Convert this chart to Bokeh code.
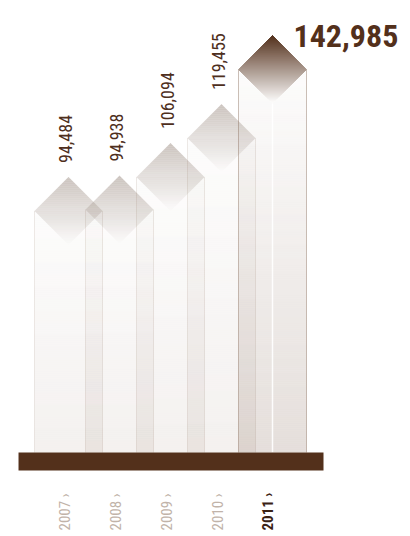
import math
from bokeh.plotting import figure
from bokeh.models import Range1d
from bokeh.core.properties import value
from bokeh.embed import file_html
from bokeh.resources import INLINE

# ---- data ----
years = ["2007", "2008", "2009", "2010", "2011"]
values = [94484, 94938, 106094, 119455, 142985]
value_labels = ["94,484", "94,938", "106,094", "119,455", "142,985"]
year_labels = ["2007 \u203a", "2008 \u203a", "2009 \u203a", "2010 \u203a", "2011 \u203a"]
highlight = "2011"

# ---- layout ----
W, H = 410, 534
BASE_PX, TOP_PX = 452.0, 35.0    # screen rows of value 0 and of the max value
FIRST_PX, STEP_PX = 68.0, 51.0   # screen x of first bar centre, spacing
BAR_HALF_PX = 34.0
UPP = max(values) / (BASE_PX - TOP_PX)      # value units per pixel
Y_END = BASE_PX * UPP
Y_START = -(H - BASE_PX) * UPP
X_START = -FIRST_PX / STEP_PX
X_END = X_START + W / STEP_PX
w = BAR_HALF_PX / STEP_PX
h = BAR_HALF_PX * UPP
BAND = 2 * UPP                              # gradient band height (2 px)

BROWN = "#53301b"
GREY_BROWN = "#8b796d"
COL = "#8c7060"
FONT = "Roboto Condensed"

p = figure(width=W, height=H, x_range=Range1d(X_START, X_END), y_range=Range1d(Y_START, Y_END),
           output_backend="svg", toolbar_location=None, min_border=0,
           x_axis_type=None, y_axis_type=None)
p.grid.visible = False
p.outline_line_color = None
p.background_fill_color = "white"
p.border_fill_color = "white"


def bands(lo, hi):
    """Split [lo, hi] (value units) at a 2px grid aligned to screen pixels (top first)."""
    n = math.ceil((Y_END - hi) / BAND)
    cuts = [hi]
    while True:
        y = Y_END - n * BAND
        if y <= lo:
            break
        if y < hi:
            cuts.append(y)
        n += 1
    cuts.append(lo)
    return [(cuts[k + 1], cuts[k]) for k in range(len(cuts) - 1)]


def half_w(T, t):
    S, B = T - h, T - 2 * h
    return w * (T - t) / h if t >= S else w * (t - B) / h


def diamond_band(cx, T, lo, hi):
    S = T - h
    xs = [cx - half_w(T, hi), cx + half_w(T, hi)]
    ys = [hi, hi]
    if lo < S < hi:
        xs.append(cx + w)
        ys.append(S)
    xs += [cx + half_w(T, lo), cx - half_w(T, lo)]
    ys += [lo, lo]
    if lo < S < hi:
        xs.append(cx - w)
        ys.append(S)
    return xs, ys


def over_white(hex_color, a):
    r, g, b = (int(hex_color[k:k + 2], 16) for k in (1, 3, 5))
    return "#%02x%02x%02x" % tuple(round(255 - a * (255 - c)) for c in (r, g, b))


for i, (yr, v) in enumerate(zip(years, values)):
    hi_bar = (yr == highlight)
    top = v - h
    # ---- column: vertical gradient built from pixel-aligned bands ----
    a_top, a_bot = (0.02, 0.23) if hi_bar else (0.02, 0.10)
    L, R, B_, T_, A_ = [], [], [], [], []
    for lo, hi in bands(0, top):
        f = ((lo + hi) / 2) / top
        L.append(i - w); R.append(i + w); B_.append(lo); T_.append(hi)
        A_.append(a_bot + (a_top - a_bot) * f)
    p.quad(left=L, right=R, bottom=B_, top=T_, fill_color=COL, fill_alpha=A_,
           line_color=None)

    # column edges
    p.segment(x0=[i - w, i + w], y0=[0, 0], x1=[i - w, i + w], y1=[top, top],
              line_color=COL, line_alpha=0.45 if hi_bar else 0.15, line_width=1)

    # ---- diamond: dark at the top, fading out at the bottom ----
    bottom = v - 2 * h
    if hi_bar:
        # opaque layers painted from the full diamond up to the tip (no seams)
        xs, ys, cols = [], [], []
        for lo, hi in reversed(bands(bottom, v)):
            a = (((lo + hi) / 2) - bottom) / (2 * h)
            bx, by = diamond_band(i, v, lo, v)
            xs.append(bx); ys.append(by)
            cols.append(over_white(BROWN, a))
        p.patches(xs=xs, ys=ys, fill_color=cols, line_color=None)
        p.segment(x0=[i], y0=[0], x1=[i], y1=[bottom], line_color="white",
                  line_alpha=0.9, line_width=1.5)
    else:
        A = 0.45
        xs, ys, da = [], [], []
        for lo, hi in bands(bottom, v):
            bx, by = diamond_band(i, v, lo, hi)
            xs.append(bx); ys.append(by)
            da.append(A * (((lo + hi) / 2) - bottom) / (2 * h))
        p.patches(xs=xs, ys=ys, fill_color=GREY_BROWN, fill_alpha=da, line_color=None)

# ---- base bar ----
p.quad(left=[-0.98], right=[len(years)], bottom=[-18 * UPP], top=[0],
       fill_color=BROWN, line_color=None)

# ---- value labels ----
norm = [k for k, yr in enumerate(years) if yr != highlight]
hk = years.index(highlight)
p.text(x=norm, y=[values[k] for k in norm], text=[value_labels[k] for k in norm],
       angle=math.pi / 2, text_align="left", text_baseline="middle", y_offset=-14, x_offset=-3,
       text_font=value(FONT), text_font_size="18px", text_color="#4e2f1d")

p.text(x=[hk], y=[values[hk]], text=[value_labels[hk]], text_align="left",
       text_baseline="alphabetic", x_offset=21, text_font=value(FONT), text_font_size="32px",
       text_font_style="bold", text_color=BROWN)

# ---- year labels ----
p.text(x=norm, y=[Y_START] * len(norm), text=[year_labels[k] for k in norm],
       angle=math.pi / 2, text_align="left", text_baseline="middle", y_offset=-4, x_offset=-4,
       text_font=value(FONT), text_font_size="15px", text_color="#c1b3a9")
p.text(x=[hk], y=[Y_START], text=[year_labels[hk]],
       angle=math.pi / 2, text_align="left", text_baseline="middle", y_offset=-4, x_offset=-5,
       text_font=value(FONT), text_font_size="15px", text_font_style="bold", text_color="#3a2214")

open("out.html", "w").write(file_html(p, INLINE))
